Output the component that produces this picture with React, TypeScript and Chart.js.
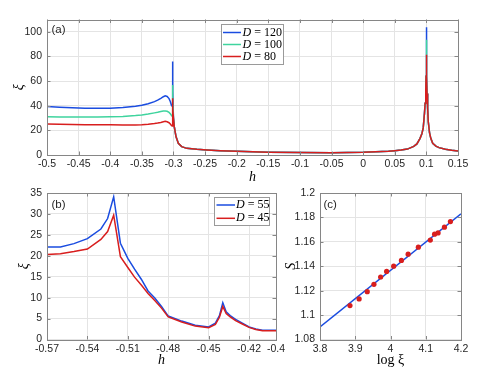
import React, { useEffect, useRef } from "react";
import { Chart, registerables } from "chart.js";
Chart.register(...registerables);

const W = 479;
const H = 387;

// ---------- Panel (a) data ----------
const hA = [-0.5, -0.48, -0.46, -0.44, -0.42, -0.4, -0.38, -0.36, -0.35, -0.34, -0.33, -0.325, -0.32, -0.316, -0.313, -0.31, -0.307, -0.305, -0.303, -0.302, -0.3015, -0.301,
  -0.3, -0.2987, -0.296, -0.2923, -0.287, -0.279, -0.263, -0.247, -0.226, -0.2, -0.15, -0.1, -0.05, 0, 0.02, 0.04, 0.05, 0.06, 0.07, 0.08, 0.085, 0.09, 0.093, 0.095, 0.097, 0.098, 0.099, 0.0995,
  0.1, 0.1005, 0.101, 0.102, 0.103, 0.105, 0.107, 0.11, 0.115, 0.12, 0.13, 0.14, 0.15];
const xiA120 = [39.3, 38.8, 38.3, 38.0, 38.0, 38.0, 38.6, 39.6, 40.4, 41.6, 43.3, 44.5, 46.0, 47.3, 48.0, 47.5, 45.8, 43.5, 40.0, 39.8, 75.9, 52,
  30, 23, 15, 9.5, 6.8, 5.4, 4.6, 4.1, 3.5, 3.0, 2.3, 2.0, 1.9, 2.2, 2.6, 3.1, 3.5, 4.0, 4.8, 7.0, 9.0, 13.5, 17.5, 22, 34, 42, 52, 64,
  103.8, 64, 50, 38, 27, 18, 13.5, 9.5, 7.2, 6.0, 4.6, 3.8, 3.2];
const xiA100 = [31.1, 30.9, 30.8, 30.8, 30.8, 31.0, 31.3, 32.0, 32.5, 33.2, 34.2, 34.7, 35.3, 35.7, 35.8, 35.5, 34.6, 33.5, 32.0, 31.5, 56.9, 45,
  30, 23, 15, 9.5, 6.8, 5.4, 4.6, 4.1, 3.5, 3.0, 2.3, 2.0, 1.9, 2.2, 2.6, 3.1, 3.5, 4.0, 4.8, 7.0, 9.0, 13.5, 17.5, 22, 34, 42, 52, 64,
  93.5, 64, 50, 38, 27, 18, 13.5, 9.5, 7.2, 6.0, 4.6, 3.8, 3.2];
const xiA80 = [25.2, 25.0, 24.8, 24.6, 24.5, 24.5, 24.4, 24.4, 24.5, 24.9, 25.5, 25.9, 26.4, 27.0, 27.3, 27.0, 26.2, 25.2, 23.8, 23.6, 46, 38,
  30, 23, 15, 9.5, 6.8, 5.4, 4.6, 4.1, 3.5, 3.0, 2.3, 2.0, 1.9, 2.2, 2.6, 3.1, 3.5, 4.0, 4.8, 7.0, 9.0, 13.5, 17.5, 22, 34, 42, 52, 64,
  81.3, 64, 50, 38, 27, 18, 13.5, 9.5, 7.2, 6.0, 4.6, 3.8, 3.2];
const aXTicks = [-0.5, -0.45, -0.4, -0.35, -0.3, -0.25, -0.2, -0.15, -0.1, -0.05, 0, 0.05, 0.1, 0.15];
const aYTicks = [0, 20, 40, 60, 80, 100];
const aLegendD = ["120", "100", "80"];

// ---------- Panel (b) data ----------
const hB = [-0.57, -0.56, -0.55, -0.54, -0.53, -0.525, -0.5205, -0.5155, -0.51, -0.505, -0.5, -0.495, -0.49, -0.485, -0.48, -0.47, -0.46, -0.45, -0.445, -0.442, -0.4395, -0.437, -0.434, -0.43, -0.425, -0.42, -0.415, -0.41, -0.4];
const xiB55 = [22.1, 22.1, 22.9, 24.1, 26.4, 28.9, 34.1, 23.0, 19.4, 16.8, 14.4, 11.6, 9.9, 7.9, 5.6, 4.4, 3.4, 3.0, 3.9, 5.7, 8.8, 6.6, 5.7, 4.8, 3.9, 3.0, 2.5, 2.2, 2.2];
const xiB45 = [20.3, 20.5, 21.0, 21.6, 23.9, 25.8, 29.7, 19.8, 17.2, 14.9, 13.0, 11.0, 9.3, 7.5, 5.4, 4.2, 3.2, 2.8, 3.6, 5.3, 7.9, 6.2, 5.4, 4.5, 3.7, 2.9, 2.4, 2.1, 2.1];
const bXTicks = [-0.57, -0.54, -0.51, -0.48, -0.45, -0.42, -0.4];
const bYTicks = [0, 5, 10, 15, 20, 25, 30, 35];
const bLegendD = ["55", "45"];

// ---------- Panel (c) data ----------
const logXi = [3.885, 3.911, 3.934, 3.953, 3.972, 3.989, 4.009, 4.031, 4.05, 4.079, 4.113, 4.125, 4.135, 4.153, 4.17];
const sVals = [1.1078, 1.1132, 1.1192, 1.1252, 1.1312, 1.1358, 1.1401, 1.1448, 1.1499, 1.1556, 1.1614, 1.1663, 1.1673, 1.172, 1.1766];
const fitX = [3.8, 4.2];
const fitY = [1.0903, 1.1829];
const cXTicks = [3.8, 3.9, 4, 4.1, 4.2];
const cYTicks = [1.08, 1.1, 1.12, 1.14, 1.16, 1.18, 1.2];

// ---------- styles ----------
const BLUE = "#1a4ce0";
const GREEN = "#3fd49e";
const RED = "#d81e1e";
const TEXT = "#262626";
const GRID = "#e4e4e4";
const FRAME = "#868686";
const LEG_EDGE = "#9a9a9a";
const TICK_FONT = { family: "'Liberation Sans', Arial, sans-serif", size: 10.5 };
const TITLE_FONT = { family: "'Liberation Serif', serif", size: 14, style: "italic" as const };

const fmt = (v: number) => String(Math.round(v * 100) / 100);
const pts = (xs: number[], ys: number[]) => xs.map((x, i) => ({ x, y: ys[i] }));

const framePlugin = {
  id: "frame",
  afterDraw(chart: any, _args: any, opts: any) {
    const { ctx, chartArea: a, scales } = chart;
    ctx.save();
    ctx.strokeStyle = FRAME;
    ctx.lineWidth = 1;
    const tl = 3.5;
    ctx.beginPath();
    for (const t of scales.x.ticks) {
      const px = Math.round(scales.x.getPixelForValue(t.value)) + 0.5;
      ctx.moveTo(px, a.bottom);
      ctx.lineTo(px, a.bottom - tl);
      ctx.moveTo(px, a.top);
      ctx.lineTo(px, a.top + tl);
    }
    for (const t of scales.y.ticks) {
      const py = Math.round(scales.y.getPixelForValue(t.value)) + 0.5;
      ctx.moveTo(a.left, py);
      ctx.lineTo(a.left + tl, py);
      ctx.moveTo(a.right, py);
      ctx.lineTo(a.right - tl, py);
    }
    ctx.stroke();
    const l = Math.round(a.left) + 0.5, t = Math.round(a.top) + 0.5;
    ctx.strokeRect(l, t, Math.round(a.right) - Math.round(a.left), Math.round(a.bottom) - Math.round(a.top));

    ctx.fillStyle = TEXT;
    ctx.font = "11.5px 'Liberation Sans', Arial, sans-serif";
    ctx.textBaseline = "middle";
    ctx.textAlign = "left";
    ctx.fillText(opts.label, opts.labelX, opts.labelY);

    const lg = opts.legend;
    if (lg) {
      ctx.fillStyle = "#fff";
      ctx.fillRect(lg.x, lg.y, lg.w, lg.h);
      ctx.strokeStyle = LEG_EDGE;
      ctx.lineWidth = 1;
      ctx.strokeRect(lg.x + 0.5, lg.y + 0.5, lg.w, lg.h);
      lg.items.forEach((it: any, i: number) => {
        const y = lg.row0 + i * lg.step;
        ctx.strokeStyle = it.color;
        ctx.lineWidth = 1.5;
        ctx.beginPath();
        ctx.moveTo(lg.l0, y);
        ctx.lineTo(lg.l1, y);
        ctx.stroke();
        ctx.fillStyle = "#000";
        ctx.textBaseline = "middle";
        ctx.textAlign = "left";
        ctx.font = "italic 12px 'Liberation Serif', serif";
        ctx.fillText("D", lg.tx, y);
        const w = ctx.measureText("D").width;
        ctx.font = "12px 'Liberation Serif', serif";
        ctx.fillText(" = " + it.text, lg.tx + w, y);
      });
    }
    ctx.restore();
  },
};

function axis(min: number, max: number, ticks: number[], size: number, horizontal: boolean, title: string, titlePad: number, titleFont: any, tickPad: number) {
  return {
    type: "linear" as const,
    min,
    max,
    afterBuildTicks: (s: any) => {
      s.ticks = ticks.map((v) => ({ value: v }));
    },
    afterFit: (s: any) => {
      if (horizontal) s.height = size;
      else s.width = size;
    },
    grid: { color: GRID, drawTicks: false, lineWidth: 1 },
    border: { display: false },
    ticks: { padding: tickPad, color: TEXT, font: TICK_FONT, autoSkip: false, maxRotation: 0, minRotation: 0, callback: (v: any) => fmt(Number(v)) },
    title: {
      display: true,
      text: title,
      color: "#000",
      font: titleFont,
      padding: horizontal ? { top: 0, bottom: titlePad } : { top: titlePad, bottom: 0 },
    },
  };
}

const lineDs = (label: string, xs: number[], ys: number[], color: string, order: number) => ({
  label,
  data: pts(xs, ys),
  borderColor: color,
  backgroundColor: color,
  borderWidth: 1.5,
  pointRadius: 0,
  tension: 0,
  order,
});

function cfgA(): any {
  return {
    type: "line",
    data: {
      datasets: [
        lineDs("D = 120", hA, xiA120, BLUE, 2),
        lineDs("D = 100", hA, xiA100, GREEN, 1),
        lineDs("D = 80", hA, xiA80, RED, 0),
      ],
    },
    options: {
      responsive: false,
      animation: false,
      events: [],
      layout: { padding: { left: 0, right: W - 458, top: 19.5, bottom: H - 155 - 40 } },
      scales: {
        x: axis(-0.5, 0.15, aXTicks, 40, true, "h", 8.9, TITLE_FONT, 3),
        y: axis(0, 110, aYTicks, 47, false, "ξ", 10.9, TITLE_FONT, 5),
      },
      plugins: {
        legend: { display: false },
        tooltip: { enabled: false },
        frame: {
          label: "(a)",
          labelX: 51.5,
          labelY: 29.5,
          legend: {
            x: 221, y: 24, w: 62, h: 40, row0: 32.5, step: 12, l0: 223, l1: 241, tx: 242.5,
            items: [
              { color: BLUE, text: aLegendD[0] },
              { color: GREEN, text: aLegendD[1] },
              { color: RED, text: aLegendD[2] },
            ],
          },
        },
      },
    },
    plugins: [framePlugin],
  };
}

function cfgB(): any {
  return {
    type: "line",
    data: {
      datasets: [lineDs("D = 55", hB, xiB55, BLUE, 1), lineDs("D = 45", hB, xiB45, RED, 0)],
    },
    options: {
      responsive: false,
      animation: false,
      events: [],
      layout: { padding: { left: 0, right: W - 276, top: 193, bottom: H - 339.5 - 30 } },
      scales: {
        x: axis(-0.57, -0.4, bXTicks, 30, true, "h", 0.5, TITLE_FONT, 3),
        y: axis(0, 35, bYTicks, 47, false, "ξ", 15.6, TITLE_FONT, 5),
      },
      plugins: {
        legend: { display: false },
        tooltip: { enabled: false },
        frame: {
          label: "(b)",
          labelX: 51.5,
          labelY: 205,
          legend: {
            x: 214, y: 197, w: 55, h: 28, row0: 205, step: 13.3, l0: 216.5, l1: 235, tx: 236,
            items: [
              { color: BLUE, text: bLegendD[0] },
              { color: RED, text: bLegendD[1] },
            ],
          },
        },
      },
    },
    plugins: [framePlugin],
  };
}

function cfgC(): any {
  return {
    type: "scatter",
    data: {
      datasets: [
        {
          label: "data",
          data: pts(logXi, sVals),
          backgroundColor: RED,
          borderColor: RED,
          pointRadius: 2.6,
          pointBorderWidth: 0,
          showLine: false,
          order: 0,
        },
        {
          label: "fit",
          data: pts(fitX, fitY),
          borderColor: BLUE,
          backgroundColor: BLUE,
          borderWidth: 1.5,
          pointRadius: 0,
          showLine: true,
          order: 1,
        },
      ],
    },
    options: {
      responsive: false,
      animation: false,
      events: [],
      layout: { padding: { left: 280, right: W - 461, top: 193, bottom: H - 339.5 - 30 } },
      scales: {
        x: axis(3.8, 4.2, cXTicks, 30, true, "log ξ", 0.5, { family: "'Liberation Serif', serif", size: 14 }, 3),
        y: axis(1.08, 1.2, cYTicks, 40, false, "S", 3.3, TITLE_FONT, 5),
      },
      plugins: {
        legend: { display: false },
        tooltip: { enabled: false },
        frame: { label: "(c)", labelX: 323.5, labelY: 204.5 },
      },
    },
    plugins: [framePlugin],
  };
}

export default function App() {
  const r1 = useRef<HTMLCanvasElement>(null);
  const r2 = useRef<HTMLCanvasElement>(null);
  const r3 = useRef<HTMLCanvasElement>(null);
  useEffect(() => {
    const charts = [new Chart(r1.current!, cfgA()), new Chart(r2.current!, cfgB()), new Chart(r3.current!, cfgC())];
    return () => charts.forEach((c) => c.destroy());
  }, []);
  const cs: React.CSSProperties = { position: "absolute", left: 0, top: 0, width: W, height: H };
  return (
    <div style={{ position: "fixed", left: 0, top: 0, width: W, height: H, background: "#fff" }}>
      <canvas ref={r1} width={W} height={H} style={cs} />
      <canvas ref={r2} width={W} height={H} style={cs} />
      <canvas ref={r3} width={W} height={H} style={cs} />
    </div>
  );
}
